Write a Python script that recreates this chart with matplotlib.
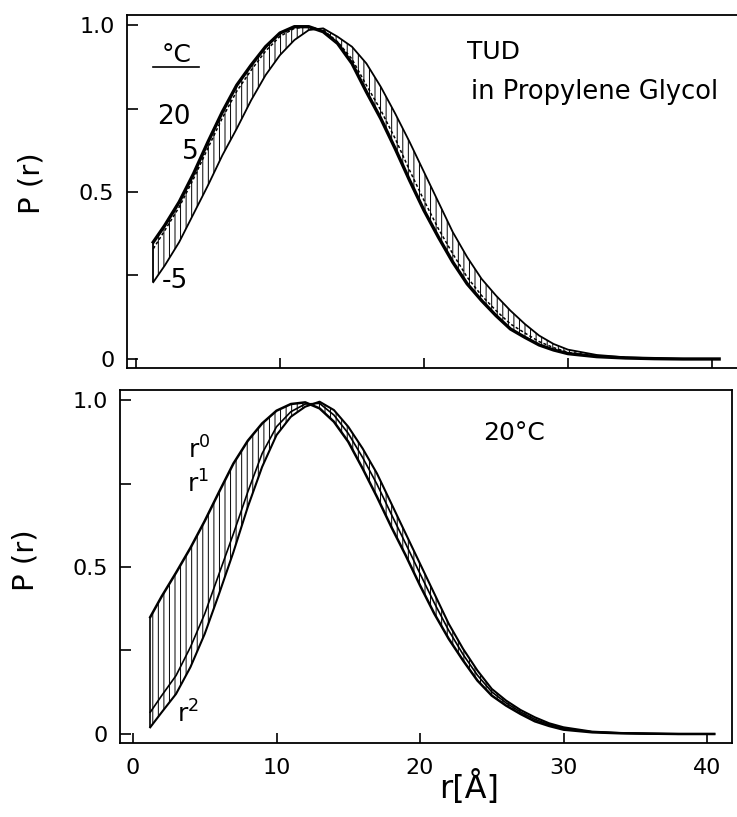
import matplotlib
matplotlib.use("Agg")
import matplotlib.pyplot as plt
import numpy as np

# ---------------- data ----------------
r = [1.2, 2, 3, 4, 5, 6, 7, 8, 9, 10, 11, 12, 13, 14, 15, 16, 17, 18, 19, 20,
     21, 22, 23, 24, 25, 26, 27, 28, 29, 30, 32, 34, 36, 38, 40.5]

# top panel: TUD in propylene glycol at three temperatures
p_20C = [0.35, 0.40, 0.47, 0.555, 0.65, 0.74, 0.82, 0.88, 0.935, 0.976, 0.995, 0.995,
         0.98, 0.945, 0.885, 0.80, 0.72, 0.63, 0.535, 0.445, 0.365, 0.29, 0.225, 0.175,
         0.13, 0.09, 0.065, 0.042, 0.027, 0.016, 0.007, 0.003, 0.001, 0.0, 0.0]
p_5C = [0.33, 0.385, 0.455, 0.54, 0.632, 0.722, 0.802, 0.865, 0.922, 0.966, 0.99, 0.995,
        0.985, 0.95, 0.898, 0.82, 0.745, 0.66, 0.565, 0.475, 0.39, 0.315, 0.245, 0.19,
        0.145, 0.105, 0.078, 0.052, 0.034, 0.02, 0.009, 0.004, 0.001, 0.0, 0.0]
p_m5C = [0.23, 0.28, 0.35, 0.435, 0.52, 0.61, 0.69, 0.775, 0.85, 0.91, 0.955, 0.985,
         0.99, 0.965, 0.935, 0.885, 0.815, 0.735, 0.65, 0.56, 0.47, 0.38, 0.305, 0.24,
         0.19, 0.145, 0.105, 0.07, 0.045, 0.028, 0.012, 0.005, 0.002, 0.0, 0.0]

# bottom panel: 20 C, different weightings r^0, r^1, r^2
p_r0 = [0.35, 0.412, 0.483, 0.557, 0.638, 0.725, 0.81, 0.878, 0.93, 0.968, 0.988, 0.993,
        0.975, 0.935, 0.875, 0.795, 0.71, 0.62, 0.535, 0.445, 0.36, 0.285, 0.22, 0.16,
        0.115, 0.085, 0.06, 0.038, 0.024, 0.013, 0.005, 0.002, 0.001, 0.0, 0.0]
p_r1 = [0.065, 0.115, 0.175, 0.26, 0.36, 0.48, 0.6, 0.725, 0.84, 0.92, 0.965, 0.988,
        0.99, 0.955, 0.9, 0.828, 0.748, 0.658, 0.57, 0.48, 0.392, 0.31, 0.238, 0.176,
        0.126, 0.093, 0.066, 0.044, 0.028, 0.017, 0.006, 0.0025, 0.001, 0.0, 0.0]
p_r2 = [0.02, 0.065, 0.12, 0.2, 0.3, 0.42, 0.545, 0.68, 0.8, 0.895, 0.95, 0.98,
        0.995, 0.97, 0.92, 0.855, 0.78, 0.69, 0.6, 0.51, 0.42, 0.33, 0.255, 0.19,
        0.135, 0.1, 0.072, 0.05, 0.032, 0.02, 0.007, 0.003, 0.001, 0.0, 0.0]

x_ticks = [0, 10, 20, 30, 40]
x_ticklabels = ["0", "10", "20", "30", "40"]
y_ticks = [0, 0.25, 0.5, 0.75, 1.0]
y_ticklabels = ["0", "", "0.5", "", "1.0"]

# ---------------- figure ----------------
plt.rcParams['font.family'] = ['DejaVu Sans']
plt.rcParams['hatch.linewidth'] = 0.7
fig = plt.figure(figsize=(7.37, 8.17), dpi=100)

ax1 = fig.add_axes([127 / 737, 1 - 368 / 817, 1 - 127 / 737, (368 - 15) / 817])
ax2 = fig.add_axes([120 / 737, 1 - 743 / 817, (732 - 120) / 737, (743 - 390) / 817])

rr = np.array(r)


def style(ax, xlim, show_xlabels):
    ax.set_xlim(*xlim)
    ax.set_ylim(-0.027, 1.03)
    ax.set_xticks(x_ticks)
    ax.set_yticks(y_ticks)
    ax.set_yticklabels(y_ticklabels, fontsize=16)
    if show_xlabels:
        ax.set_xticklabels(x_ticklabels, fontsize=16)
    else:
        ax.set_xticklabels([])
    ax.tick_params(axis='y', direction='in', length=8, width=1.2, pad=9)
    ax.tick_params(axis='x', direction='in', length=7, width=1.2, pad=11)
    for s in ax.spines.values():
        s.set_linewidth(1.3)
    ax.set_ylabel("P (r)", fontsize=21)
    ax.yaxis.label.set_va('center')


# ---- top panel ----
style(ax1, (-0.625, 41.74), False)
ax1.spines['right'].set_visible(False)
ax1.yaxis.set_label_coords(-0.157, 0.524)

ax1.fill_between(rr, p_20C, p_m5C, facecolor='none', edgecolor='black',
                 hatch='|||', linewidth=0)
ax1.plot(rr, p_m5C, color='black', lw=1.3)
ax1.plot(rr, p_5C, color='black', lw=1.1, ls=(0, (2.0, 1.5)))
ax1.plot(rr, p_20C, color='black', lw=2.4)
ax1.vlines(rr[0], p_m5C[0], p_20C[0], color='black', lw=1.3)

ax1.text(2.8, 0.91, "°C", fontsize=18, ha='center', va='center')
ax1.plot([1.2, 4.4], [0.875, 0.875], color='black', lw=1.2)
ax1.text(2.6, 0.725, "20", fontsize=19, ha='center', va='center')
ax1.text(3.8, 0.62, "5", fontsize=19, ha='center', va='center')
ax1.text(2.7, 0.233, "-5", fontsize=19, ha='center', va='center')
ax1.text(23.0, 0.92, "TUD", fontsize=18, ha='left', va='center')
ax1.text(23.3, 0.80, "in Propylene Glycol", fontsize=18.5, ha='left', va='center')

# ---- bottom panel ----
style(ax2, (-0.906, 41.74), True)
ax2.yaxis.set_label_coords(-0.155, 0.518)

ax2.fill_between(rr, p_r0, p_r1, facecolor='none', edgecolor='black',
                 hatch='|||', linewidth=0)
ax2.fill_between(rr, p_r1, p_r2, facecolor='none', edgecolor='black',
                 hatch='|||', linewidth=0)
ax2.plot(rr, p_r2, color='black', lw=1.5)
ax2.plot(rr, p_r1, color='black', lw=1.2)
ax2.plot(rr, p_r0, color='black', lw=1.8)
ax2.vlines(rr[0], p_r2[0], p_r0[0], color='black', lw=1.2)

ax2.text(4.6, 0.85, "r$^{0}$", fontsize=18, ha='center', va='center')
ax2.text(4.5, 0.75, "r$^{1}$", fontsize=18, ha='center', va='center')
ax2.text(3.85, 0.06, "r$^{2}$", fontsize=18, ha='center', va='center')
ax2.text(24.4, 0.90, "20°C", fontsize=18, ha='left', va='center')

ax2.set_xlabel("r[Å]", fontsize=23)
ax2.xaxis.label.set_va('center')
ax2.xaxis.set_label_coords(0.57, -0.127)

fig.savefig("out.png", dpi=100, facecolor='white')
